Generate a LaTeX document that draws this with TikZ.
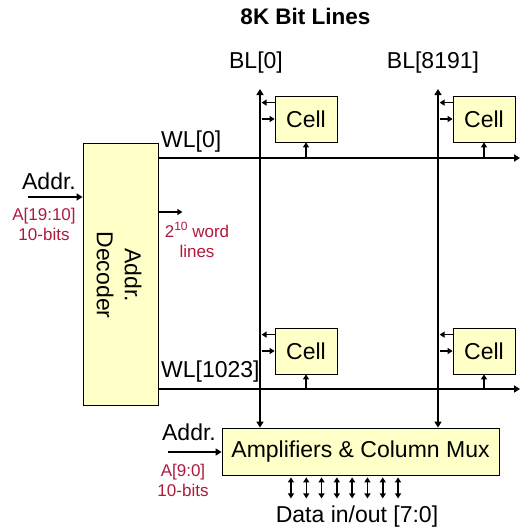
\documentclass[tikz,border=0pt]{standalone}
\usepackage{fontspec}
\setmainfont{Liberation Sans}
\usetikzlibrary{arrows.meta}
\definecolor{boxfill}{RGB}{255,255,200}
\definecolor{redtxt}{RGB}{175,25,60}
\begin{document}
\begin{tikzpicture}[x=1pt,y=-1pt,
  blk/.style={draw=black,line width=0.8pt,fill=boxfill,inner sep=0pt,font=\fontsize{23}{27}\selectfont},
  lbl/.style={inner sep=0pt,font=\fontsize{23}{27}\selectfont},
  rlbl/.style={inner sep=0pt,text=redtxt,align=center,font=\fontsize{17}{20}\selectfont},
  bus/.style={line width=2pt,-{Triangle[length=6pt,width=7pt]}},
  busboth/.style={line width=2pt,{Triangle[length=6pt,width=7pt]}-{Triangle[length=6pt,width=7pt]}},
  sm/.style={line width=1.5pt,-{Triangle[length=5pt,width=6pt]}},
  smboth/.style={line width=1.5pt,{Triangle[length=5pt,width=6pt]}-{Triangle[length=5pt,width=6pt]}}
]
\useasboundingbox (0,0) rectangle (520,530);

% title and labels
\node[lbl,font=\bfseries\fontsize{22.5}{26}\selectfont] (title) at (305.5,16) {8K Bit Lines};
\node[lbl] (bl0lbl) at (256,63) {BL[0]};
\node[lbl] (bl8lbl) at (433,63) {BL[8191]};

% blocks
\node[blk,minimum width=75pt,minimum height=262pt] (dec) at (120.5,274) {};
\node[lbl,rotate=-90,align=center,font=\fontsize{23}{28}\selectfont] (dectxt) at (119,275) {Addr.\\Decoder};
\node[blk,minimum width=62pt,minimum height=46pt] (c1) at (306,119) {Cell};
\node[blk,minimum width=62pt,minimum height=46pt] (c2) at (484,119) {Cell};
\node[blk,minimum width=62pt,minimum height=46pt] (c3) at (306,351) {Cell};
\node[blk,minimum width=62pt,minimum height=46pt] (c4) at (484,351) {Cell};
\node[blk,minimum width=277pt,minimum height=47pt] (amps) at (360.5,451.5) {Amplifiers \& Column Mux};

% bit lines
\coordinate (bl0top) at (260,89);
\coordinate (bl8top) at (438,89);
\draw[busboth] (bl0top) -- (bl0top |- amps.north);
\draw[busboth] (bl8top) -- (bl8top |- amps.north);

% word lines
\coordinate (wl0) at (0,158);
\coordinate (wl1) at (0,389);
\coordinate (wl0end) at (520,158);
\coordinate (wl1end) at (520,389);
\draw[bus] (dec.east |- wl0) -- (wl0end);
\draw[bus] (dec.east |- wl1) -- (wl1end);
\node[lbl,anchor=west] (wl0lbl) at (161,142) {WL[0]};
\node[lbl,anchor=west] (wl1lbl) at (161,372) {WL[1023]};

% cell connections
\foreach \c/\w in {c1/wl0,c2/wl0,c3/wl1,c4/wl1}{
  \draw[sm] ([yshift=-7pt]\c.north west) -- ++(-13,0);
  \draw[sm] ([xshift=-13pt]\c.west) -- (\c.west);
  \draw[sm] (\c.south |- \w) -- (\c.south);
}

% decoder address
\coordinate (addrL) at (28,197);
\draw[bus] (addrL) -- (addrL -| dec.west);
\node[lbl] (addr1) at (49,181) {Addr.};
\node[rlbl] (a1910) at (44,224) {A[19:10]\\10-bits};

% word lines note
\coordinate (wlnote) at (0,212);
\draw[sm] (dec.east |- wlnote) -- ++(24,0);
\node[rlbl] (wlnotetxt) at (197,240) {2\raisebox{0.45em}{\fontsize{12}{12}\selectfont 10} word\\lines};

% amps address
\coordinate (addrB) at (168,452);
\draw[bus] (addrB) -- (addrB -| amps.west);
\node[lbl] (addr2) at (189,432) {Addr.};
\node[rlbl] (a90) at (183,480) {A[9:0]\\10-bits};

% data lines
\foreach \i in {0,...,7}{
  \draw[smboth] ([xshift={-16pt+(\i-3.5)*15.3pt},yshift=-2pt]amps.south) -- ++(0,21);
}
\node[lbl] (data) at (357,517) {Data in/out [7:0]};
\end{tikzpicture}
\end{document}
